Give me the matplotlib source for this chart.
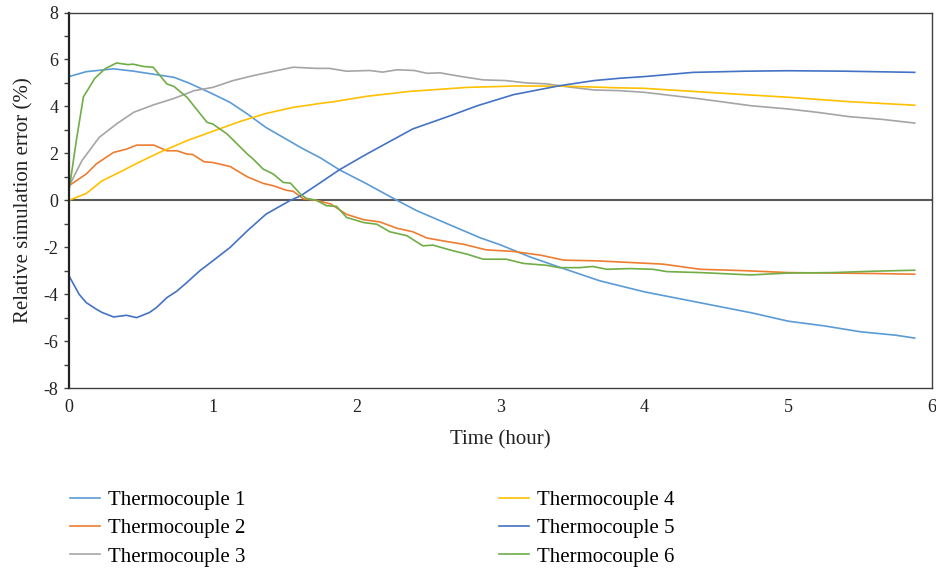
import matplotlib
matplotlib.use('Agg')
import matplotlib.pyplot as plt
from matplotlib.ticker import MultipleLocator

matplotlib.rcParams['font.family'] = ['Liberation Serif', 'DejaVu Serif']
matplotlib.rcParams['axes.unicode_minus'] = False

# thermocouple 1 (light blue)
t1_x = [0, 0.12, 0.31, 0.45, 0.61, 0.73, 0.84, 1.0, 1.12, 1.24, 1.37, 1.54, 1.61, 1.75, 1.88, 2.07,
        2.28, 2.42, 2.63, 2.86, 3.0, 3.2, 3.41, 3.69, 4.0, 4.25, 4.5, 4.75, 5.0, 5.25, 5.5, 5.75, 5.88]
t1_y = [5.27, 5.48, 5.6, 5.5, 5.35, 5.24, 4.98, 4.53, 4.17, 3.68, 3.1, 2.5, 2.25, 1.8, 1.3, 0.7,
        0.0, -0.45, -1.0, -1.6, -1.9, -2.4, -2.85, -3.43, -3.9, -4.2, -4.5, -4.8, -5.15, -5.35, -5.6, -5.75, -5.87]

# thermocouple 2 (orange)
t2_x = [0, 0.12, 0.19, 0.31, 0.40, 0.47, 0.59, 0.68, 0.75, 0.82, 0.86, 0.94, 1.0, 1.12, 1.24, 1.35,
        1.42, 1.51, 1.56, 1.63, 1.72, 1.82, 1.93, 2.05, 2.16, 2.28, 2.39, 2.49, 2.63, 2.74, 2.90,
        3.09, 3.28, 3.44, 3.67, 3.90, 4.13, 4.39, 4.7, 5.0, 5.3, 5.6, 5.88]
t2_y = [0.62, 1.12, 1.55, 2.04, 2.18, 2.35, 2.35, 2.11, 2.11, 1.97, 1.95, 1.64, 1.61, 1.44, 1.0, 0.72,
        0.62, 0.43, 0.38, 0.06, 0.0, -0.16, -0.6, -0.83, -0.92, -1.19, -1.34, -1.61, -1.76, -1.87, -2.11,
        -2.18, -2.34, -2.55, -2.58, -2.65, -2.72, -2.94, -3.0, -3.08, -3.1, -3.12, -3.15]

# thermocouple 3 (gray)
t3_x = [0, 0.09, 0.21, 0.33, 0.45, 0.59, 0.73, 0.87, 1.0, 1.14, 1.28, 1.44, 1.56, 1.72, 1.81, 1.93,
        2.09, 2.18, 2.28, 2.40, 2.49, 2.58, 2.72, 2.88, 3.04, 3.18, 3.32, 3.46, 3.65, 3.83, 4.0, 4.39,
        4.74, 5.0, 5.2, 5.43, 5.65, 5.88]
t3_y = [0.6, 1.69, 2.68, 3.25, 3.75, 4.07, 4.34, 4.67, 4.81, 5.1, 5.31, 5.52, 5.67, 5.62, 5.62, 5.5,
        5.53, 5.46, 5.56, 5.53, 5.41, 5.43, 5.28, 5.13, 5.1, 5.0, 4.96, 4.84, 4.7, 4.67, 4.6, 4.32,
        4.03, 3.89, 3.75, 3.56, 3.45, 3.29]

# thermocouple 4 (yellow)
t4_x = [0, 0.12, 0.23, 0.35, 0.47, 0.63, 0.82, 1.0, 1.19, 1.37, 1.56, 1.75, 1.84, 2.07, 2.37, 2.77,
        3.11, 3.46, 3.83, 4.0, 4.62, 5.0, 5.43, 5.88]
t4_y = [0.0, 0.29, 0.83, 1.19, 1.57, 2.04, 2.54, 2.94, 3.36, 3.7, 3.96, 4.13, 4.2, 4.43, 4.64, 4.81,
        4.87, 4.86, 4.79, 4.77, 4.53, 4.39, 4.2, 4.05]

# thermocouple 5 (dark blue)
t5_x = [0, 0.07, 0.12, 0.19, 0.23, 0.31, 0.40, 0.47, 0.56, 0.61, 0.68, 0.75, 0.82, 0.91, 1.0, 1.12,
        1.24, 1.37, 1.54, 1.61, 1.75, 1.88, 2.07, 2.39, 2.65, 2.84, 3.09, 3.41, 3.65, 3.83, 4.0, 4.34,
        4.7, 5.0, 5.4, 5.88]
t5_y = [-3.22, -4.0, -4.36, -4.64, -4.78, -4.97, -4.9, -5.0, -4.78, -4.56, -4.15, -3.87, -3.5, -3.0, -2.58, -2.01,
        -1.3, -0.59, 0.0, 0.19, 0.76, 1.3, 1.97, 3.04, 3.6, 4.03, 4.5, 4.88, 5.1, 5.2, 5.27, 5.45,
        5.5, 5.52, 5.5, 5.45]

# thermocouple 6 (green)
t6_x = [0, 0.05, 0.1, 0.18, 0.25, 0.33, 0.41, 0.445, 0.52, 0.585, 0.68, 0.73, 0.82, 0.96, 1.0, 1.10,
        1.24, 1.28, 1.35, 1.42, 1.49, 1.54, 1.61, 1.65, 1.72, 1.79, 1.86, 1.93, 2.05, 2.14, 2.23, 2.35,
        2.46, 2.53, 2.67, 2.77, 2.88, 3.04, 3.16, 3.32, 3.41, 3.55, 3.64, 3.74, 3.90, 4.06, 4.16, 4.39,
        4.74, 5.0, 5.31, 5.6, 5.88]
t6_y = [0.4, 2.5, 4.4, 5.2, 5.6, 5.85, 5.78, 5.8, 5.7, 5.67, 4.96, 4.85, 4.39, 3.32, 3.25, 2.82,
        1.97, 1.76, 1.33, 1.12, 0.76, 0.73, 0.26, 0.08, 0.0, -0.23, -0.26, -0.73, -0.95, -1.02, -1.34, -1.51,
        -1.94, -1.91, -2.15, -2.3, -2.51, -2.51, -2.69, -2.77, -2.87, -2.87, -2.82, -2.94, -2.91, -2.94, -3.04, -3.08,
        -3.18, -3.1, -3.08, -3.02, -2.98]

series = [
    (t1_x, t1_y, '#5B9BD5', 'Thermocouple 1'),
    (t2_x, t2_y, '#ED7D31', 'Thermocouple 2'),
    (t3_x, t3_y, '#A5A5A5', 'Thermocouple 3'),
    (t4_x, t4_y, '#FFC000', 'Thermocouple 4'),
    (t5_x, t5_y, '#4472C4', 'Thermocouple 5'),
    (t6_x, t6_y, '#70AD47', 'Thermocouple 6'),
]

fig = plt.figure(figsize=(9.36, 5.69), dpi=100)
ax = fig.add_axes([0.0737, 0.318, 0.922, 0.660])

for xs, ys, col, lab in series:
    ax.plot(xs, ys, color=col, linewidth=1.2, label=lab)

ax.axhline(0, color='#595959', linewidth=1.5, zorder=0)

ax.set_xlim(0, 6)
ax.set_ylim(-8, 8)
ax.yaxis.set_major_locator(MultipleLocator(2))
ax.yaxis.set_minor_locator(MultipleLocator(1))
ax.xaxis.set_major_locator(MultipleLocator(1))
ax.tick_params(axis='y', which='both', direction='out', length=3.5, width=1, colors='#404040',
               labelcolor='#222222', labelsize=13, pad=4)
ax.tick_params(axis='x', length=0, labelsize=13, labelcolor='#222222', pad=8)

for side in ['top', 'right', 'bottom']:
    ax.spines[side].set_color('#404040')
    ax.spines[side].set_linewidth(1)
ax.spines['left'].set_color('#222222')
ax.spines['left'].set_linewidth(1.6)

ax.set_xlabel('Time (hour)', fontsize=15, color='#222222', labelpad=10)
ax.set_ylabel('Relative simulation error (%)', fontsize=15, color='#222222', labelpad=7)

fig.legend(loc='upper left', bbox_to_anchor=(0.066, 0.153), bbox_transform=fig.transFigure,
           ncol=2, frameon=False, fontsize=15, handlelength=1.45, handletextpad=0.35,
           columnspacing=12.2, labelspacing=0.42, borderaxespad=0)

fig.savefig('out.png', dpi=100)
